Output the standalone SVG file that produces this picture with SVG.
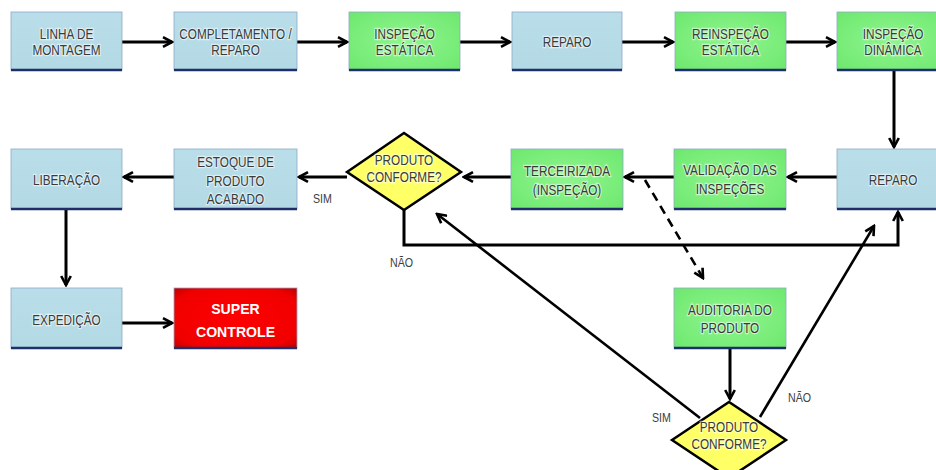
<svg xmlns="http://www.w3.org/2000/svg" width="936" height="470" viewBox="0 0 936 470">
<defs>
<linearGradient id="gBlue" x1="0" y1="0" x2="0" y2="1"><stop offset="0" stop-color="#b9dee9"/><stop offset="1" stop-color="#b3d9e5"/></linearGradient>
<radialGradient id="gGreen" cx="0.5" cy="0.5" r="0.7"><stop offset="0" stop-color="#8ff58f"/><stop offset="1" stop-color="#6ee86e"/></radialGradient>
<radialGradient id="gRed" cx="0.5" cy="0.5" r="0.7"><stop offset="0" stop-color="#ff0000"/><stop offset="0.8" stop-color="#f00000"/><stop offset="1" stop-color="#c00000"/></radialGradient>
<marker id="ah" viewBox="0 0 10 10" refX="8.5" refY="5" markerWidth="12" markerHeight="12" markerUnits="userSpaceOnUse" orient="auto">
<path d="M1,1 L8.5,5 L1,9" fill="none" stroke="#000" stroke-width="2.2"/>
</marker>
</defs>
<style>
.box{stroke:#8ea9c8;stroke-width:0.8}
.blue{fill:url(#gBlue)}
.green{fill:url(#gGreen)}
.red{fill:url(#gRed)}
.bl{stroke:#1f2f6a;stroke-width:2.5}
.dia{fill:#ffff66;stroke:#000;stroke-width:2.5}
.t{font-family:"Liberation Sans",Arial,sans-serif;font-size:14px;fill:#3a3a3a;text-anchor:middle;stroke:#ffffff;stroke-opacity:0.55;stroke-width:2.5;paint-order:stroke}
.tb{font-family:"Liberation Sans",Arial,sans-serif;font-size:15px;font-weight:bold;fill:#ffffff;text-anchor:middle}
.lbl{font-family:"Liberation Sans",Arial,sans-serif;font-size:13px;fill:#404040}
.c{fill:none;stroke:#000;stroke-width:3;marker-end:url(#ah)}
.cd{fill:none;stroke:#000;stroke-width:2.6;marker-end:url(#ah)}
.dash{fill:none;stroke:#000;stroke-width:2.6;stroke-dasharray:9 6;marker-end:url(#ah)}
</style>
<rect width="936" height="470" fill="#ffffff"/>

<g id="connectors">
<path class="c" d="M122,42 H172"/>
<path class="c" d="M297,42 H347"/>
<path class="c" d="M460,42 H510"/>
<path class="c" d="M622,42 H673"/>
<path class="c" d="M786,42 H835"/>
<path class="c" d="M894,71 V147"/>
<path class="c" d="M837,177 H788"/>
<path class="c" d="M674,177 H625"/>
<path class="c" d="M511,177 H464"/>
<path class="c" d="M347,177 H299"/>
<path class="c" d="M174,177 H124"/>
<path class="c" d="M66,210 V285"/>
<path class="c" d="M122,323 H172"/>
<path class="c" d="M404,210 V245 H898 V212"/>
<path class="dash" d="M645,180 L703,278"/>
<path class="c" d="M730,349 V399"/>
<path class="cd" d="M700,418 L437,214"/>
<path class="cd" d="M760,417 L874,226"/>
<text class="lbl" transform="translate(313 203) scale(0.82 1)">SIM</text>
<text class="lbl" transform="translate(390 267) scale(0.82 1)">NÃO</text>
<text class="lbl" transform="translate(652 422) scale(0.82 1)">SIM</text>
<text class="lbl" transform="translate(788 402) scale(0.82 1)">NÃO</text>
</g>

<g id="n1"><rect class="box blue" x="11" y="12" width="111" height="58"/><path class="bl" d="M11,70 H122"/><text class="t" transform="translate(66.5 38.5) scale(0.84 1)">LINHA DE</text><text class="t" transform="translate(66.5 55) scale(0.84 1)">MONTAGEM</text></g>
<g id="n2"><rect class="box blue" x="174" y="12" width="123" height="58"/><path class="bl" d="M174,70 H297"/><text class="t" transform="translate(235.5 38.5) scale(0.84 1)">COMPLETAMENTO /</text><text class="t" transform="translate(235.5 55) scale(0.84 1)">REPARO</text></g>
<g id="n3"><rect class="box green" x="349" y="12" width="111" height="58"/><path class="bl" d="M349,70 H460"/><text class="t" transform="translate(404.5 38.5) scale(0.84 1)">INSPEÇÃO</text><text class="t" transform="translate(404.5 55) scale(0.84 1)">ESTÁTICA</text></g>
<g id="n4"><rect class="box blue" x="512" y="12" width="110" height="58"/><path class="bl" d="M512,70 H622"/><text class="t" transform="translate(567 46.5) scale(0.84 1)">REPARO</text></g>
<g id="n5"><rect class="box green" x="675" y="12" width="111" height="58"/><path class="bl" d="M675,70 H786"/><text class="t" transform="translate(730.5 38.5) scale(0.84 1)">REINSPEÇÃO</text><text class="t" transform="translate(730.5 55) scale(0.84 1)">ESTÁTICA</text></g>
<g id="n6"><rect class="box green" x="837" y="12" width="112" height="58"/><path class="bl" d="M837,70 H949"/><text class="t" transform="translate(893 38.5) scale(0.84 1)">INSPEÇÃO</text><text class="t" transform="translate(893 55) scale(0.84 1)">DINÂMICA</text></g>

<g id="n7"><rect class="box blue" x="837" y="149" width="112" height="60"/><path class="bl" d="M837,209 H949"/><text class="t" transform="translate(893 185) scale(0.84 1)">REPARO</text></g>
<g id="n8"><rect class="box green" x="674" y="149" width="112" height="60"/><path class="bl" d="M674,209 H786"/><text class="t" transform="translate(730 175) scale(0.84 1)">VALIDAÇÃO DAS</text><text class="t" transform="translate(730 194) scale(0.84 1)">INSPEÇÕES</text></g>
<g id="n9"><rect class="box green" x="511" y="149" width="112" height="60"/><path class="bl" d="M511,209 H623"/><text class="t" transform="translate(567 176) scale(0.84 1)">TERCEIRIZADA</text><text class="t" transform="translate(567 195) scale(0.84 1)">(INSPEÇÃO)</text></g>
<g id="d1"><polygon class="dia" points="347,172 404,133 461,172 404,210"/><text class="t" transform="translate(404 165) scale(0.84 1)">PRODUTO</text><text class="t" transform="translate(404 182) scale(0.84 1)">CONFORME?</text></g>
<g id="n10"><rect class="box blue" x="174" y="149" width="123" height="60"/><path class="bl" d="M174,209 H297"/><text class="t" transform="translate(235.5 167) scale(0.84 1)">ESTOQUE DE</text><text class="t" transform="translate(235.5 185.5) scale(0.84 1)">PRODUTO</text><text class="t" transform="translate(235.5 204) scale(0.84 1)">ACABADO</text></g>
<g id="n11"><rect class="box blue" x="11" y="149" width="111" height="60"/><path class="bl" d="M11,209 H122"/><text class="t" transform="translate(66.5 185) scale(0.84 1)">LIBERAÇÃO</text></g>

<g id="n12"><rect class="box blue" x="11" y="288" width="111" height="60"/><path class="bl" d="M11,348 H122"/><text class="t" transform="translate(66.5 325) scale(0.84 1)">EXPEDIÇÃO</text></g>
<g id="n13"><rect class="box red" x="174" y="288" width="123" height="60"/><path class="bl" d="M174,348 H297"/><text class="tb" transform="translate(235.5 314) scale(0.94 1)">SUPER</text><text class="tb" transform="translate(235.5 337) scale(0.94 1)">CONTROLE</text></g>
<g id="n14"><rect class="box green" x="674" y="288" width="112" height="60"/><path class="bl" d="M674,348 H786"/><text class="t" transform="translate(730 315) scale(0.84 1)">AUDITORIA DO</text><text class="t" transform="translate(730 333) scale(0.84 1)">PRODUTO</text></g>
<g id="d2"><polygon class="dia" points="672,440 729,402 786,440 729,478"/><text class="t" transform="translate(729 432) scale(0.84 1)">PRODUTO</text><text class="t" transform="translate(729 449) scale(0.84 1)">CONFORME?</text></g>
</svg>
